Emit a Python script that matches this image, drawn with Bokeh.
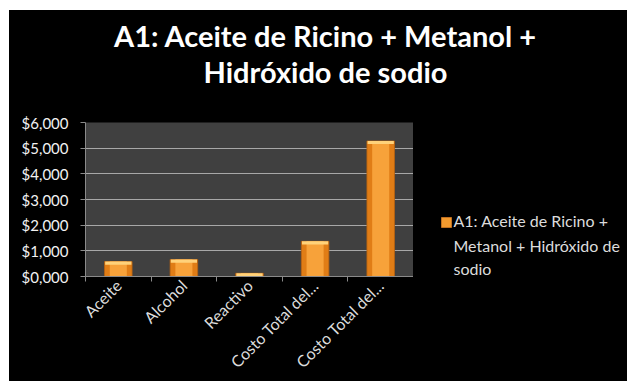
import math
from bokeh.plotting import figure
from bokeh.models import Range1d, FixedTicker, Spacer
from bokeh.layouts import row, column
from bokeh.core.properties import value
from bokeh.embed import file_html
from bokeh.resources import INLINE

categories = ["Aceite", "Alcohol", "Reactivo", "Costo Total del...", "Costo Total del..."]
values = [580, 660, 125, 1370, 5280]
y_ticks = [0, 1000, 2000, 3000, 4000, 5000, 6000]
y_tick_labels = ["$0,000", "$1,000", "$2,000", "$3,000", "$4,000", "$5,000", "$6,000"]
title_lines = ["A1: Aceite de Ricino + Metanol +", "Hidróxido de sodio"]
legend_lines = ["A1: Aceite de Ricino +", "Metanol + Hidróxido de", "sodio"]

FONT = "Lato"
BG = "black"
xs = list(range(len(categories)))


def blank_fig(w, h, xr, yr, top=0, bottom=0):
    f = figure(width=w, height=h, output_backend="svg", toolbar_location=None,
               x_range=Range1d(*xr), y_range=Range1d(*yr),
               min_border=0, min_border_left=0, min_border_right=0,
               min_border_top=top, min_border_bottom=bottom)
    f.axis.visible = False
    f.grid.visible = False
    f.background_fill_color = BG
    f.border_fill_color = BG
    f.outline_line_color = None
    return f


# ---- title panel (page pixel coordinates, y downward) ----
pt = blank_fig(618, 102, (9, 627), (112, 10))
pt.text(x=[325, 325], y=[35, 71], text=title_lines, text_align="center", text_baseline="alphabetic",
        text_font=value(FONT), text_font_size="29px", text_font_style="bold", text_color="white")

# ---- main chart ----
p = figure(width=404, height=269, output_backend="svg", toolbar_location=None,
           x_range=Range1d(-0.5, len(categories) - 0.5), y_range=Range1d(0, 6000),
           min_border_left=76, min_border_right=0, min_border_top=10, min_border_bottom=105)
p.border_fill_color = BG
p.background_fill_color = "#404040"
p.outline_line_color = None

p.vbar(x=xs, top=values, bottom=0, width=0.42, fill_color="#e07d16", line_color="#b86210", line_width=0.8)
p.vbar(x=xs, top=values, bottom=0, width=0.26, fill_color="#f7a23a", line_color=None)
cap = [max(v - 120, 0) for v in values]
p.vbar(x=xs, top=values, bottom=cap, width=0.40, fill_color="#ffd27a", line_color=None)

p.yaxis.ticker = FixedTicker(ticks=y_ticks)
p.yaxis.major_label_overrides = {t: l for t, l in zip(y_ticks, y_tick_labels)}
p.yaxis.major_label_text_font = FONT
p.yaxis.major_label_text_font_size = "15px"
p.yaxis.major_label_text_color = "#f2f2f2"
p.yaxis.axis_line_color = "#8a8a8a"
p.yaxis.major_tick_line_color = "#8a8a8a"
p.yaxis.major_tick_out = 5
p.yaxis.major_tick_in = 0
p.yaxis.minor_tick_line_color = None
p.yaxis.major_label_standoff = 12

p.xaxis.ticker = FixedTicker(ticks=xs, minor_ticks=[i - 0.5 for i in range(len(categories) + 1)])
p.xaxis.major_label_overrides = {i: c for i, c in enumerate(categories)}
p.xaxis.major_label_orientation = math.pi / 4
p.xaxis.major_label_text_font = FONT
p.xaxis.major_label_text_font_size = "16px"
p.xaxis.major_label_text_color = "#dcdcdc"
p.xaxis.major_tick_line_color = None
p.xaxis.minor_tick_line_color = "#8a8a8a"
p.xaxis.minor_tick_out = 5
p.xaxis.minor_tick_in = 0
p.xaxis.axis_line_color = "#8a8a8a"
p.xaxis.major_label_standoff = 0

p.xgrid.grid_line_color = None
p.ygrid.grid_line_color = "#a8a8a8"
p.ygrid.grid_line_width = 1

# ---- legend panel (same borders as the chart so frames line up; page pixel coords) ----
pl = blank_fig(214, 269, (413, 627), (276, 122), top=10, bottom=105)
pl.scatter(x=[446], y=[222], marker="square", size=10, fill_color="#f39a2e", line_color="#c07020")
pl.text(x=[453, 453, 453], y=[220, 245, 268], text=legend_lines, text_align="left", text_baseline="middle",
        text_font=value(FONT), text_font_size="16px", text_color="#dcdcdc")

black = {"background-color": "black"}
layout = row(Spacer(width=9, height=381),
             column(Spacer(width=618, height=10),
                    column(pt, row(p, pl, styles=black), styles=black)))
open("out.html", "w").write(file_html(layout, INLINE))
